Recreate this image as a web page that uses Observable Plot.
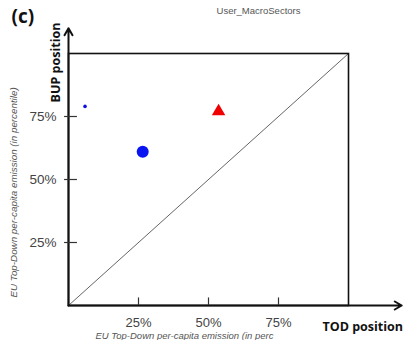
<!DOCTYPE html>
<html><head><meta charset="utf-8">
<script src="https://cdn.jsdelivr.net/npm/d3@7"></script>
<script src="https://cdn.jsdelivr.net/npm/@observablehq/plot@0.6"></script>
<style>html,body{margin:0;padding:0;background:#fff} svg{display:block}</style>
</head><body><div id="chart"></div>
<script>
// Data
const tickValues = [0.25, 0.5, 0.75];
const tickLabels = ["25%", "50%", "75%"];
const pointNames = ["small dot", "large dot", "triangle"];
const pointX = [0.059, 0.265, 0.536];
const pointY = [0.79, 0.61, 0.77];
const title = "User_MacroSectors";
const panel = "(c)";
const xTitle = "TOD position";
const yTitle = "BUP position";
const xSubtitle = "EU Top-Down per-capita emission (in perc";
const ySubtitle = "EU Top-Down per-capita emission (in percentile)";

const points = pointNames.map((n, i) => ({name: n, x: pointX[i], y: pointY[i]}));
const ticks = tickValues.map((v, i) => ({v, label: tickLabels[i]}));

const sans = "'Liberation Sans', Arial, sans-serif";
const bold = "'Open Sans', 'Liberation Sans', sans-serif";

const chart = Plot.plot({
  width: 404, height: 340,
  marginLeft: 68, marginRight: 56, marginTop: 53, marginBottom: 35,
  style: {fontFamily: sans, background: "#fff"},
  x: {domain: [0, 1], axis: null},
  y: {domain: [0, 1], axis: null},
  marks: [
    Plot.link([0], {x1: 0, y1: 0, x2: 1, y2: 1, stroke: "#666", strokeWidth: 1}),
    Plot.frame({stroke: "#111", strokeWidth: 1.6}),
    Plot.arrow([0], {x1: 0, y1: 0, x2: 0, y2: 1.1, stroke: "#111", strokeWidth: 2, headLength: 6}),
    Plot.arrow([0], {x1: 0, y1: 0, x2: 1.19, y2: 0, stroke: "#111", strokeWidth: 2, headLength: 6}),
    Plot.ruleX(ticks, {x: "v", y1: 0, y2: 0.03, stroke: "#333", strokeWidth: 1.2}),
    Plot.ruleY(ticks, {y: "v", x1: -0.014, x2: 0.032, stroke: "#333", strokeWidth: 1.2}),
    Plot.text(ticks, {x: "v", text: "label", frameAnchor: "bottom", dy: 17, lineAnchor: "middle", fontSize: 13, fill: "#444"}),
    Plot.text(ticks, {y: "v", text: "label", frameAnchor: "left", dx: -12, textAnchor: "end", lineAnchor: "middle", fontSize: 13.5, fill: "#444"}),
    Plot.dot(points.filter(d => d.name === "small dot"), {x: "x", y: "y", r: 1.8, fill: "#1010e0", stroke: null}),
    Plot.dot(points.filter(d => d.name === "large dot"), {x: "x", y: "y", r: 6, fill: "#0a14f0", stroke: null}),
    Plot.dot(points.filter(d => d.name === "triangle"), {x: "x", y: "y", r: 5, symbol: "triangle", fill: "#f00000", stroke: null}),
    Plot.text([panel], {frameAnchor: "top-left", dx: -57, dy: -37, textAnchor: "start", lineAnchor: "middle", fontSize: 19, fontWeight: "bold", fontFamily: bold, fill: "#111"}),
    Plot.text([title], {frameAnchor: "top", dx: 50, dy: -43, lineAnchor: "middle", fontSize: 9.5, fill: "#555"}),
    Plot.text([yTitle], {frameAnchor: "top-left", dx: -13, dy: 9, rotate: -90, textAnchor: "middle", lineAnchor: "middle", fontSize: 12.5, fontWeight: "bold", fontFamily: bold, fill: "#111"}),
    Plot.text([xTitle], {frameAnchor: "bottom-right", dx: -26, dy: 21, textAnchor: "start", lineAnchor: "middle", fontSize: 12.5, fontWeight: "bold", fontFamily: bold, fill: "#111"}),
    Plot.text([xSubtitle], {frameAnchor: "bottom-left", dx: 27, dy: 30.5, textAnchor: "start", lineAnchor: "middle", fontSize: 9.5, fontStyle: "italic", fill: "#555"}),
    Plot.text([ySubtitle], {frameAnchor: "bottom-left", dx: -55, dy: -8, rotate: -90, textAnchor: "start", lineAnchor: "middle", fontSize: 9.8, fontStyle: "italic", fill: "#555"})
  ]
});
document.getElementById("chart").append(chart);
</script>
</body></html>
